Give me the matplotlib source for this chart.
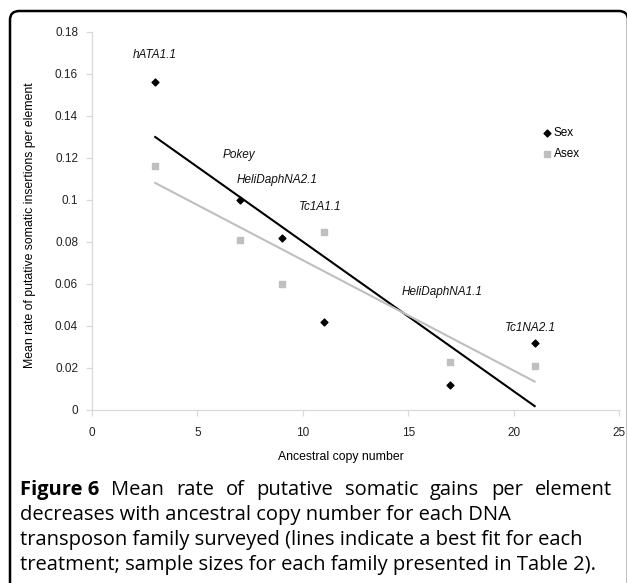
import numpy as np
import matplotlib
matplotlib.use("Agg")
import matplotlib.pyplot as plt
from matplotlib.patches import FancyBboxPatch

# ancestral copy number for each family
copies = [3, 7, 9, 11, 17, 21]
sex_rate = [0.156, 0.100, 0.082, 0.042, 0.012, 0.032]
asex_rate = [0.116, 0.081, 0.060, 0.085, 0.023, 0.021]

# family labels and where they sit (data coords)
family_names = ["hATA1.1", "Pokey", "HeliDaphNA2.1", "Tc1A1.1", "HeliDaphNA1.1", "Tc1NA2.1"]
label_x = [2.97, 6.97, 8.78, 10.84, 16.6, 20.8]
label_y = [0.169, 0.1214, 0.1095, 0.0967, 0.0562, 0.0392]

caption_bold = "Figure 6"
caption_lines = [
    "Mean rate of putative somatic gains per element",
    "decreases with ancestral copy number for each DNA",
    "transposon family surveyed (lines indicate a best fit for each",
    "treatment; sample sizes for each family presented in Table 2).",
]

W, H = 627, 583
plt.rcParams["font.family"] = ["Liberation Sans", "DejaVu Sans"]
fig = plt.figure(figsize=(W / 100, H / 100), dpi=100)

# rounded frame around the figure (bottom and right run off the image)
frame = FancyBboxPatch((10 / W, -0.1), 618 / W, 1 - 11 / H + 0.1,
                       boxstyle="round,pad=0,rounding_size=0.015",
                       transform=fig.transFigure, fill=False,
                       edgecolor="black", linewidth=1.8, clip_on=False)
fig.patches.append(frame)

ax = fig.add_axes([92 / W, 1 - 410 / H, (619 - 92) / W, (410 - 32) / H])
ax.set_xlim(0, 25)
ax.set_ylim(0, 0.18)
ax.set_xticks([0, 5, 10, 15, 20, 25])
ax.set_yticks(np.arange(0, 0.181, 0.02))
ax.set_yticklabels(["0", "0.02", "0.04", "0.06", "0.08", "0.1", "0.12", "0.14", "0.16", "0.18"])
for s in ["top", "right"]:
    ax.spines[s].set_visible(False)
for s in ["left", "bottom"]:
    ax.spines[s].set_color("#d9d9d9")
    ax.spines[s].set_linewidth(0.9)
ax.tick_params(colors="#d9d9d9", labelcolor="#222222", labelsize=8.5, length=4, width=0.9)
ax.tick_params(axis="x", pad=8)
ax.tick_params(axis="y", pad=6)

x = np.array(copies)
# best fit lines
for vals, col in [(sex_rate, "black"), (asex_rate, "#bfbfbf")]:
    m, b = np.polyfit(x, vals, 1)
    xx = np.array([x.min(), x.max()])
    ax.plot(xx, m * xx + b, color=col, linewidth=1.5, zorder=2)

ax.scatter(x, sex_rate, marker="D", s=12, color="black", zorder=3, label="Sex")
ax.scatter(x, asex_rate, marker="s", s=22, color="#bfbfbf", zorder=3, label="Asex")

for name, lx, ly in zip(family_names, label_x, label_y):
    ax.text(lx, ly, name, style="italic", fontsize=8.5, ha="center", va="center", color="#111111")

ax.legend(loc="upper left", bbox_to_anchor=((536 - 92) / (619 - 92), 1 - (122 - 32) / 378),
          frameon=False, fontsize=8.5, handletextpad=0.1, labelspacing=0.78,
          handlelength=1.0, borderaxespad=0)

ax.set_ylabel("Mean rate of putative somatic insertions per element", fontsize=8.8)
ax.yaxis.set_label_coords((36 - 92) / (619 - 92), (410 - 225) / 378)
ax.set_xlabel("Ancestral copy number", fontsize=8.8)
ax.xaxis.set_label_coords((341 - 92) / (619 - 92), -(451 - 410) / 378)

# caption
cap_font = ["Open Sans", "DejaVu Sans"]
cap_size = 14.5
left, right = 20, 612
base = [495, 520, 545, 570]
r = fig.canvas.get_renderer()

# first line is justified to the full width
words = [caption_bold] + caption_lines[0].split()
objs = []
for i, w in enumerate(words):
    objs.append(fig.text(0, 1 - base[0] / H, w, fontsize=cap_size, family=cap_font,
                         fontweight="bold" if i == 0 else 500,
                         va="baseline", ha="left"))
widths = [o.get_window_extent(renderer=r).width for o in objs]
gap = (right - left - sum(widths)) / (len(words) - 1)
pos = left
for o, wd in zip(objs, widths):
    o.set_x(pos / W)
    pos += wd + gap

for i, line in enumerate(caption_lines[1:]):
    fig.text(left / W, 1 - base[i + 1] / H, line, fontsize=cap_size, family=cap_font,
             fontweight=500, va="baseline", ha="left")

fig.savefig("out.png", dpi=100)
